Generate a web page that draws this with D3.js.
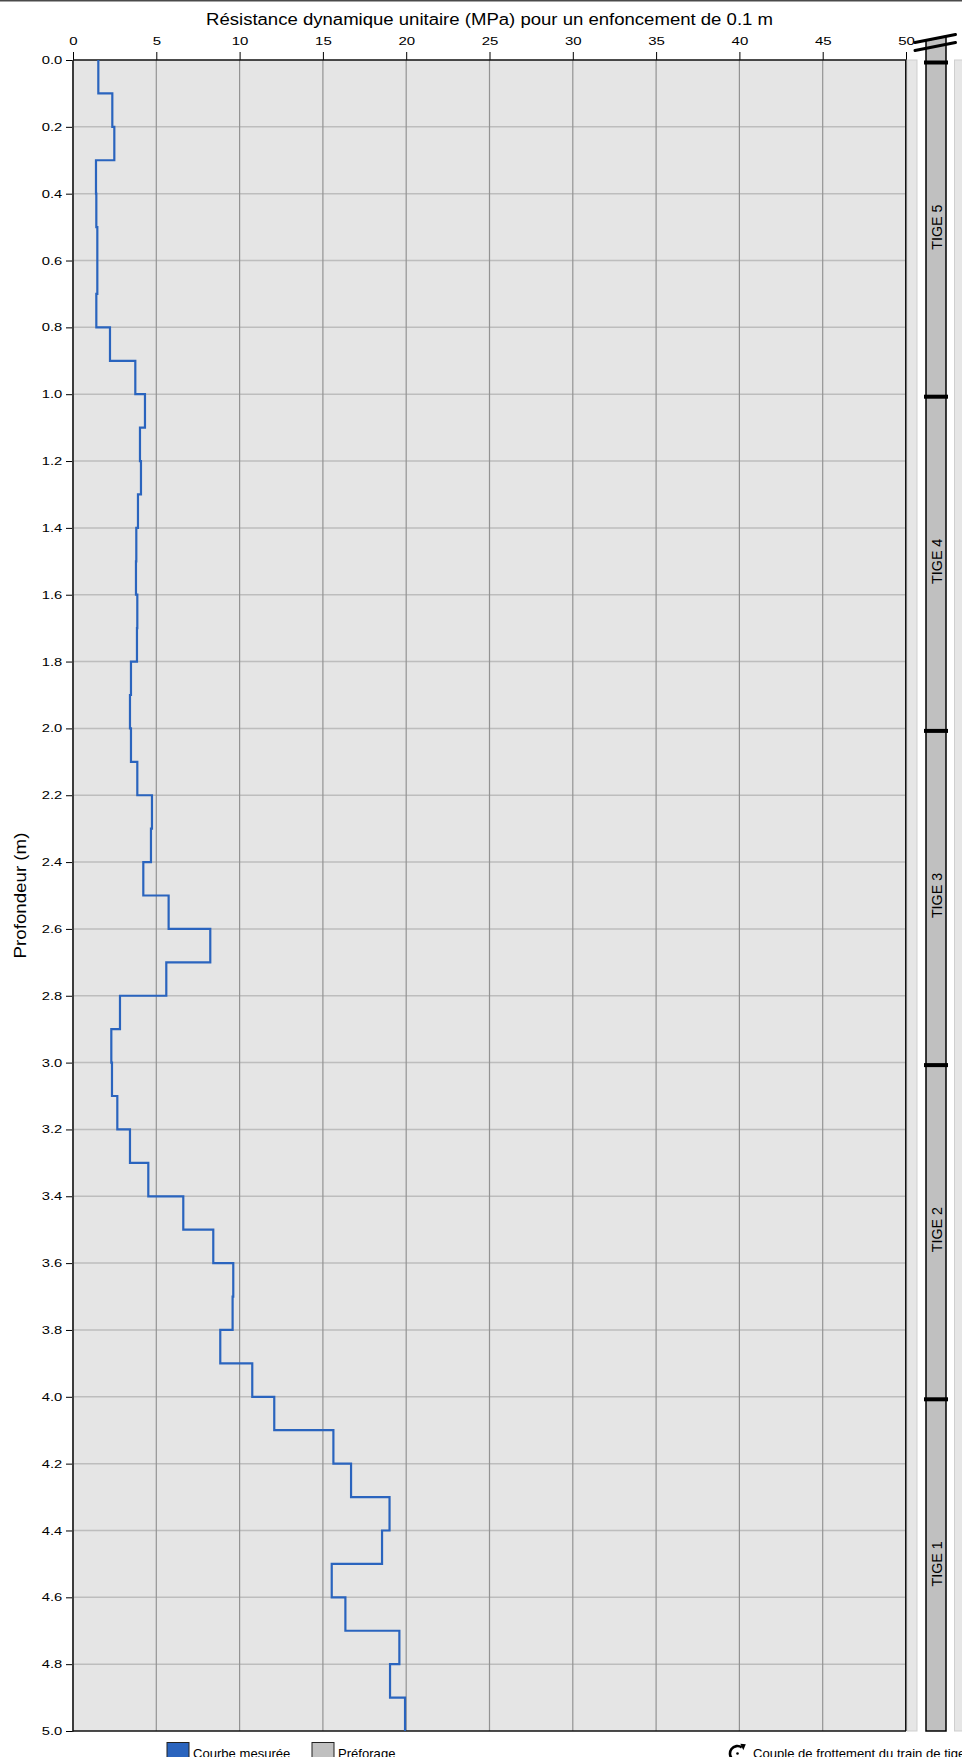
<!DOCTYPE html>
<html>
<head>
<meta charset="utf-8">
<script src="https://cdn.jsdelivr.net/npm/d3@7"></script>
<style>
  body { margin: 0; background: #fff; }
  svg { display: block; font-family: "Liberation Sans", Arial, sans-serif; }
</style>
</head>
<body>
<script>
// Penetrometer record: top of each 0.1 m interval (m) and unit dynamic resistance (MPa)
const depthTops = [
  0.0, 0.1, 0.2, 0.3, 0.4, 0.5, 0.6, 0.7, 0.8, 0.9,
  1.0, 1.1, 1.2, 1.3, 1.4, 1.5, 1.6, 1.7, 1.8, 1.9,
  2.0, 2.1, 2.2, 2.3, 2.4, 2.5, 2.6, 2.7, 2.8, 2.9,
  3.0, 3.1, 3.2, 3.3, 3.4, 3.5, 3.6, 3.7, 3.8, 3.9,
  4.0, 4.1, 4.2, 4.3, 4.4, 4.5, 4.6, 4.7, 4.8, 4.9
];
const resistance = [
  1.52, 2.36, 2.48, 1.38, 1.40, 1.46, 1.46, 1.40, 2.22, 3.74,
  4.32, 4.02, 4.08, 3.90, 3.80, 3.78, 3.86, 3.84, 3.48, 3.42,
  3.48, 3.86, 4.74, 4.68, 4.22, 5.74, 8.24, 5.60, 2.82, 2.30,
  2.34, 2.66, 3.42, 4.52, 6.62, 8.42, 9.62, 9.58, 8.84, 10.76,
  12.08, 15.63, 16.69, 19.00, 18.55, 15.53, 16.35, 19.59, 19.03, 19.93
];
const stepLength = 0.1;

// Axes
const xTicks = [0, 5, 10, 15, 20, 25, 30, 35, 40, 45, 50];
const yTicks = [0.0, 0.2, 0.4, 0.6, 0.8, 1.0, 1.2, 1.4, 1.6, 1.8, 2.0, 2.2, 2.4,
                2.6, 2.8, 3.0, 3.2, 3.4, 3.6, 3.8, 4.0, 4.2, 4.4, 4.6, 4.8, 5.0];
const xDomain = [0, 50];
const yDomain = [0, 5];

// Drill rods
const rodNames = ["TIGE 5", "TIGE 4", "TIGE 3", "TIGE 2", "TIGE 1"];
const rodTops = [0, 1, 2, 3, 4];
const rodBottoms = [1, 2, 3, 4, 5];

// Texts
const titleText = "Résistance dynamique unitaire (MPa) pour un enfoncement de 0.1 m";
const depthLabel = "Profondeur (m)";
const legendLabels = ["Courbe mesurée", "Préforage"];
const frictionLabel = "Couple de frottement du train de tiges";

// Layout
const W = 962, H = 1757;
const plot = { left: 73, right: 906, top: 60, bottom: 1731 };
const colors = {
  plotBg: "#e5e5e5",
  hGrid: "#bdbdbd",
  vGrid: "#939393",
  curve: "#2a64be",
  rod: "#c0c0c0"
};

const x = d3.scaleLinear().domain(xDomain).range([plot.left, plot.right]);
const y = d3.scaleLinear().domain(yDomain).range([plot.top, plot.bottom]);

const svg = d3.select("body").append("svg")
  .attr("width", W).attr("height", H);

// text with horizontal stretch (wide face)
function wideText(parent, str, px, py, size, sx, anchor, rotate) {
  const rot = rotate ? ` rotate(${rotate})` : "";
  return parent.append("text")
    .attr("transform", `translate(${px},${py})${rot} scale(${sx},1)`)
    .attr("text-anchor", anchor)
    .attr("font-size", size)
    .attr("fill", "#000")
    .text(str);
}

// page top rule
svg.append("line")
  .attr("x1", 0).attr("x2", W).attr("y1", 0.75).attr("y2", 0.75)
  .attr("stroke", "#4a4a4a").attr("stroke-width", 1.5);

// plot background
svg.append("rect")
  .attr("x", plot.left).attr("y", plot.top)
  .attr("width", plot.right - plot.left).attr("height", plot.bottom - plot.top)
  .attr("fill", colors.plotBg);

// horizontal grid
svg.append("g").selectAll("line")
  .data(yTicks.filter(t => t > yDomain[0] && t < yDomain[1]))
  .join("line")
  .attr("x1", plot.left).attr("x2", plot.right)
  .attr("y1", d => y(d)).attr("y2", d => y(d))
  .attr("stroke", colors.hGrid).attr("stroke-width", 1.5);

// vertical grid
svg.append("g").selectAll("line")
  .data(xTicks.filter(t => t > xDomain[0] && t < xDomain[1]))
  .join("line")
  .attr("x1", d => x(d)).attr("x2", d => x(d))
  .attr("y1", plot.top).attr("y2", plot.bottom)
  .attr("stroke", colors.vGrid).attr("stroke-width", 1.2);

// top axis
const topAxis = svg.append("g")
  .attr("transform", `translate(0,${plot.top})`)
  .call(d3.axisTop(x).tickValues(xTicks).tickSize(8).tickSizeOuter(0)
    .tickPadding(7).tickFormat(d3.format("d")));
topAxis.select(".domain").remove();
topAxis.attr("font-family", null).attr("font-size", null);
topAxis.selectAll(".tick line").attr("stroke", "#000");
topAxis.selectAll(".tick text")
  .attr("font-size", 11).attr("fill", "#000")
  .attr("transform", "scale(1.36,1)");

// left axis
const leftAxis = svg.append("g")
  .attr("transform", `translate(${plot.left},0)`)
  .call(d3.axisLeft(y).tickValues(yTicks).tickSize(7).tickSizeOuter(0)
    .tickFormat(d3.format(".1f")));
leftAxis.select(".domain").remove();
leftAxis.attr("font-family", null).attr("font-size", null);
leftAxis.selectAll(".tick line").attr("stroke", "#000");
leftAxis.selectAll(".tick text")
  .attr("font-size", 11).attr("fill", "#000")
  .attr("x", -10.7 / 1.34)
  .attr("transform", "scale(1.34,1)");

// frame
svg.append("line").attr("x1", plot.left).attr("x2", plot.left)
  .attr("y1", plot.top).attr("y2", plot.bottom + 0.5)
  .attr("stroke", "#3c3c3c").attr("stroke-width", 2);
svg.append("line").attr("x1", plot.left).attr("x2", plot.right)
  .attr("y1", plot.top).attr("y2", plot.top)
  .attr("stroke", "#111").attr("stroke-width", 1.5);
svg.append("line").attr("x1", plot.left).attr("x2", plot.right)
  .attr("y1", plot.bottom).attr("y2", plot.bottom)
  .attr("stroke", "#111").attr("stroke-width", 1.5);
svg.append("line").attr("x1", plot.right).attr("x2", plot.right)
  .attr("y1", plot.top).attr("y2", plot.bottom)
  .attr("stroke", "#111").attr("stroke-width", 2);

// measured curve (step profile)
const stepPoints = [];
depthTops.forEach((d, i) => {
  stepPoints.push({ z: d, v: resistance[i] });
  stepPoints.push({ z: d + stepLength, v: resistance[i] });
});
const stepLine = d3.line().x(p => x(p.v)).y(p => y(p.z));
svg.append("path")
  .datum(stepPoints)
  .attr("d", stepLine)
  .attr("fill", "none")
  .attr("stroke", colors.curve)
  .attr("stroke-width", 2.2)
  .attr("stroke-linejoin", "miter");

// title and depth label
wideText(svg, titleText, (plot.left + plot.right) / 2, 25, 16, 1.16, "middle");
wideText(svg, depthLabel, 26, (plot.top + plot.bottom) / 2, 16, 1.17, "middle", -90);

// side strips
svg.append("rect")
  .attr("x", plot.right + 1).attr("y", plot.top)
  .attr("width", 10).attr("height", plot.bottom - plot.top)
  .attr("fill", "#e6e6e6").attr("stroke", "#cfcfcf").attr("stroke-width", 1);
svg.append("rect")
  .attr("x", 954.5).attr("y", plot.top)
  .attr("width", 20).attr("height", plot.bottom - plot.top)
  .attr("fill", "#e6e6e6").attr("stroke", "#cfcfcf").attr("stroke-width", 1);

// rod column with slanted top under the axis break
const rodLeft = 926, rodRight = 946;
svg.append("path")
  .attr("d", `M${rodLeft},${y(rodBottoms[rodBottoms.length - 1])} L${rodLeft},40.5 L${rodRight},36.5 L${rodRight},${y(rodBottoms[rodBottoms.length - 1])} Z`)
  .attr("fill", colors.rod).attr("stroke", "#000").attr("stroke-width", 1.5);

// rod joints
svg.append("g").selectAll("rect")
  .data(rodTops)
  .join("rect")
  .attr("x", rodLeft - 2).attr("width", rodRight - rodLeft + 4)
  .attr("y", d => y(d) + 0.5).attr("height", 4)
  .attr("fill", "#000");

// rod names
rodNames.forEach((name, i) => {
  wideText(svg, name, 941.5, y((rodTops[i] + rodBottoms[i]) / 2), 14, 1.02, "middle", -90);
});

// axis break marks
const brk = svg.append("g").attr("stroke", "#000").attr("stroke-width", 3).attr("stroke-linecap", "round");
brk.append("line").attr("x1", 915).attr("y1", 42.5).attr("x2", 955.5).attr("y2", 34.5);
brk.append("line").attr("x1", 915).attr("y1", 50.5).attr("x2", 955.5).attr("y2", 42.5);

// legend
const legend = svg.append("g");
legend.append("rect").attr("x", 167).attr("y", 1742.5).attr("width", 22).attr("height", 22)
  .attr("fill", colors.curve).attr("stroke", "#222").attr("stroke-width", 1);
wideText(legend, legendLabels[0], 193, 1757.5, 12, 1.09, "start");
legend.append("rect").attr("x", 312).attr("y", 1742.5).attr("width", 22).attr("height", 22)
  .attr("fill", colors.rod).attr("stroke", "#222").attr("stroke-width", 1);
wideText(legend, legendLabels[1], 338, 1757.5, 12, 1.09, "start");

// friction torque symbol
const cx = 737.5, cy = 1753.5, r = 7.5;
const a0 = -55 * Math.PI / 180, a1 = 40 * Math.PI / 180;
const arcPath = d3.path();
arcPath.arc(cx, cy, r, a0, a1, true);
legend.append("path").attr("d", arcPath.toString())
  .attr("fill", "none").attr("stroke", "#000").attr("stroke-width", 2.6);
const tipX = cx + r * Math.cos(a0), tipY = cy + r * Math.sin(a0);
legend.append("path")
  .attr("d", `M${tipX + 4},${tipY - 3} L${tipX - 1.5},${tipY - 3.5} L${tipX + 1.5},${tipY + 3} Z`)
  .attr("fill", "#000");
legend.append("circle").attr("cx", cx).attr("cy", cy).attr("r", 1.3).attr("fill", "#000");
wideText(legend, frictionLabel, 753, 1757.5, 12, 1.09, "start");
</script>
</body>
</html>
